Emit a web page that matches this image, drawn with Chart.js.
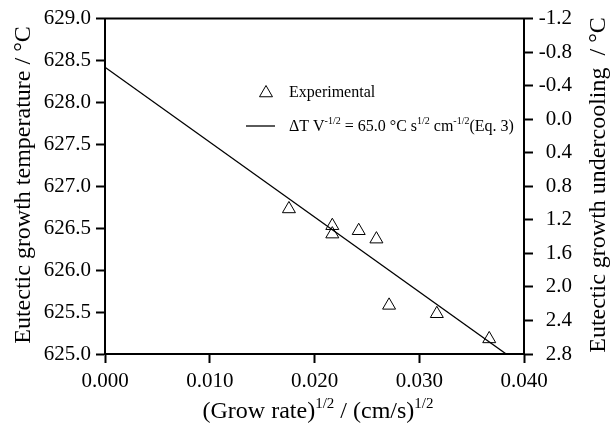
<!DOCTYPE html>
<html>
<head>
<meta charset="utf-8">
<script src="https://cdn.jsdelivr.net/npm/chart.js@4.4.1/dist/chart.umd.min.js"></script>
<style>
    body { margin: 0; background: #fff; }
    canvas { display: block; }
</style>
</head>
<body>
<canvas id="growthChart" width="610" height="431"></canvas>
<script>
// Experimental points
const growRate = [0.01756, 0.0217, 0.0217, 0.02422, 0.02591, 0.02712, 0.03168, 0.03668];
const growthTemp = [626.73, 626.53, 626.43, 626.47, 626.37, 625.58, 625.48, 625.18];

// Fit line (Eq. 3)
const fitRate = [0, 0.0383];
const fitTemp = [628.42, 625.0];

// Axis ranges
const xTicks = {min: 0, max: 0.04, step: 0.01};
const tempTicks = {min: 625, max: 629, step: 0.5};
const underTicks = {min: -1.2, max: 2.8, step: 0.4};

const FONT = 'Liberation Serif, Times New Roman, serif';

function drawRich(ctx, parts, x, y, size, supSize, raise) {
    let total = 0;
    parts.forEach(p => {
        ctx.font = (p[1] ? supSize : size) + 'px ' + FONT;
        total += ctx.measureText(p[0]).width;
    });
    let cx = x - total / 2;
    ctx.textAlign = 'left';
    ctx.textBaseline = 'alphabetic';
    parts.forEach(p => {
        ctx.font = (p[1] ? supSize : size) + 'px ' + FONT;
        ctx.fillText(p[0], cx, p[1] ? y - raise : y);
        cx += ctx.measureText(p[0]).width;
    });
}

function drawRichLeft(ctx, parts, x, y, size, supSize, raise) {
    let cx = x;
    ctx.textAlign = 'left';
    ctx.textBaseline = 'alphabetic';
    parts.forEach(p => {
        ctx.font = (p[1] ? supSize : size) + 'px ' + FONT;
        ctx.fillText(p[0], cx, p[1] ? y - raise : y);
        cx += ctx.measureText(p[0]).width;
    });
}

const decorPlugin = {
    id: 'decor',
    afterLayout(chart) {
        // right axis labels are right-aligned at x = 572 (crossAlign 'far' uses scale.right)
        chart.scales.y2.right = 572;
    },
    afterDraw(chart) {
        const ctx = chart.ctx;
        const area = chart.chartArea;
        ctx.save();
        ctx.fillStyle = '#000';
        ctx.strokeStyle = '#000';

        // top frame line
        ctx.lineWidth = 2;
        ctx.beginPath();
        ctx.moveTo(area.left - 1, area.top);
        ctx.lineTo(area.right + 1, area.top);
        ctx.stroke();

        // x title
        drawRich(ctx, [['(Grow rate)', false], ['1/2', true], [' / (cm/s)', false], ['1/2', true]],
            318, 418, 24, 15, 10);

        // left title
        ctx.save();
        ctx.translate(29.5, 185);
        ctx.rotate(-Math.PI / 2);
        ctx.font = '24px ' + FONT;
        ctx.textAlign = 'center';
        ctx.textBaseline = 'alphabetic';
        ctx.fillText('Eutectic growth temperature / °C', 0, 0);
        ctx.restore();

        // right title
        ctx.save();
        ctx.translate(605, 185);
        ctx.rotate(-Math.PI / 2);
        ctx.font = '24px ' + FONT;
        ctx.textAlign = 'center';
        ctx.textBaseline = 'alphabetic';
        ctx.fillText('Eutectic growth undercooling  / °C', 0, 0);
        ctx.restore();

        // legend
        const triX = 266, triY = 93, r = 7.5;
        ctx.lineWidth = 1;
        ctx.beginPath();
        ctx.moveTo(triX, triY - r);
        ctx.lineTo(triX + r * Math.sin(Math.PI * 2 / 3), triY + r / 2);
        ctx.lineTo(triX - r * Math.sin(Math.PI * 2 / 3), triY + r / 2);
        ctx.closePath();
        ctx.stroke();
        drawRichLeft(ctx, [['Experimental', false]], 289, 97, 16, 10, 7);

        ctx.lineWidth = 1.3;
        ctx.beginPath();
        ctx.moveTo(246, 126);
        ctx.lineTo(275, 126);
        ctx.stroke();
        drawRichLeft(ctx, [['ΔT V', false], ['-1/2', true], [' = 65.0 °C s', false], ['1/2', true],
            [' cm', false], ['-1/2', true], ['(Eq. 3)', false]], 289, 131, 16, 10, 7);

        ctx.restore();
    }
};

function axisOptions(extra) {
    return Object.assign({
        type: 'linear',
        grid: {
            drawOnChartArea: false,
            drawTicks: true,
            tickLength: 9,
            tickWidth: 2,
            color: '#000'
        },
        border: {display: true, color: '#000', width: 2},
    }, extra);
}

const fmt = digits => v => (Math.abs(v) < 1e-9 ? 0 : v).toFixed(digits);

new Chart(document.getElementById('growthChart'), {
    type: 'scatter',
    data: {
        datasets: [
            {
                label: 'Experimental',
                data: growRate.map((x, i) => ({x: x, y: growthTemp[i]})),
                pointStyle: 'triangle',
                pointRadius: 7.5,
                borderWidth: 1,
                borderColor: '#000',
                backgroundColor: 'rgba(0,0,0,0)',
                yAxisID: 'y'
            },
            {
                label: 'Eq. 3',
                type: 'line',
                data: fitRate.map((x, i) => ({x: x, y: fitTemp[i]})),
                borderColor: '#000',
                borderWidth: 1.3,
                pointRadius: 0,
                showLine: true,
                fill: false,
                yAxisID: 'y'
            }
        ]
    },
    options: {
        responsive: false,
        animation: false,
        layout: {padding: {top: 18, right: 0, bottom: 0, left: 0}},
        plugins: {
            legend: {display: false},
            tooltip: {enabled: false}
        },
        scales: {
            x: axisOptions({
                position: 'bottom',
                min: xTicks.min,
                max: xTicks.max,
                ticks: {stepSize: xTicks.step, callback: fmt(3), color: '#000',
                    font: {family: FONT, size: 21}, padding: 6, maxRotation: 0},
                afterFit: s => { s.height = 77; }
            }),
            y: axisOptions({
                position: 'left',
                min: tempTicks.min,
                max: tempTicks.max,
                ticks: {stepSize: tempTicks.step, callback: fmt(1), color: '#000',
                    font: {family: FONT, size: 21}, padding: 5},
                afterFit: s => { s.width = 105; }
            }),
            y2: axisOptions({
                position: 'right',
                min: underTicks.min,
                max: underTicks.max,
                reverse: true,
                ticks: {stepSize: underTicks.step, callback: fmt(1), color: '#000',
                    font: {family: FONT, size: 21}, padding: 6, crossAlign: 'far'},
                afterFit: s => { s.width = 86; }
            })
        }
    },
    plugins: [decorPlugin]
});
</script>
</body>
</html>
